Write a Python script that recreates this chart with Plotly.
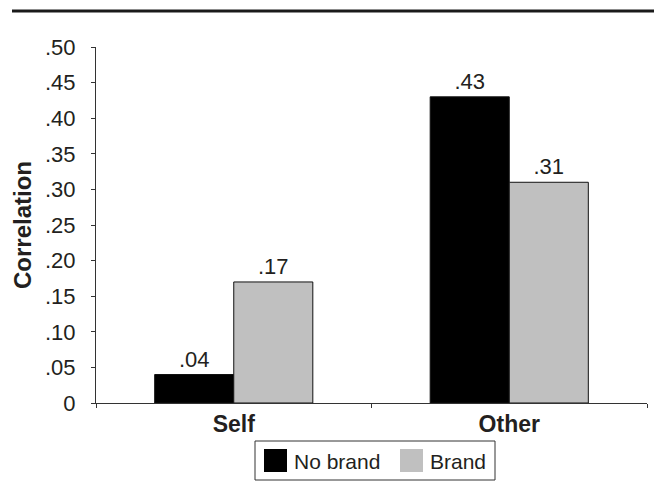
import plotly.graph_objects as go

# Data
categories = ["Self", "Other"]
no_brand = [0.04, 0.43]
brand = [0.17, 0.31]
series_names = ["No brand", "Brand"]
y_tick_values = [0, 0.05, 0.10, 0.15, 0.20, 0.25, 0.30, 0.35, 0.40, 0.45, 0.50]
y_tick_labels = ["0", ".05", ".10", ".15", ".20", ".25", ".30", ".35", ".40", ".45", ".50"]

# Styling
W, H = 654, 501
ML, MR, MT, MB = 96, 7, 47, 98
FONT = "Arial, Liberation Sans, Helvetica, sans-serif"
TXT = "#231f20"
COLORS = ["#000000", "#c0c0c0"]


def fmt(v):
    return f"{v:.2f}".lstrip("0")


fig = go.Figure()
for name, vals, col in zip(series_names, [no_brand, brand], COLORS):
    fig.add_trace(go.Bar(
        x=categories, y=vals, name=name,
        marker=dict(color=col, line=dict(color="#111111", width=1)),
        text=[fmt(v) for v in vals], textposition="outside",
        textfont=dict(family=FONT, size=22, color=TXT),
        cliponaxis=False, showlegend=False,
    ))

# helpers to place decorations in paper coordinates from pixel positions
pw, ph = W - ML - MR, H - MT - MB


def px_x(x):
    return (x - ML) / pw


def px_y(y):
    return (H - MB - y) / ph


shapes = [
    # rule across the top
    dict(type="line", xref="paper", yref="paper",
         x0=px_x(12), x1=px_x(654), y0=px_y(11), y1=px_y(11),
         line=dict(color="#1a1a1a", width=3)),
    # legend frame
    dict(type="rect", xref="paper", yref="paper",
         x0=px_x(255), x1=px_x(495), y0=px_y(480), y1=px_y(441),
         line=dict(color="#333333", width=1), fillcolor="white"),
]
annotations = []
legend_items = [(264, 292), (400, 428)]
for (sx, tx), name, col in zip(legend_items, series_names, COLORS):
    shapes.append(dict(type="rect", xref="paper", yref="paper",
                       x0=px_x(sx), x1=px_x(sx + 23), y0=px_y(472), y1=px_y(449),
                       line=dict(width=0), fillcolor=col))
    annotations.append(dict(xref="paper", yref="paper", x=px_x(tx), y=px_y(461),
                            xanchor="left", yanchor="middle", showarrow=False,
                            text=name, font=dict(family=FONT, size=21, color=TXT)))

fig.update_layout(
    width=W, height=H,
    margin=dict(l=ML, r=MR, t=MT, b=MB, autoexpand=False),
    paper_bgcolor="white", plot_bgcolor="white",
    barmode="group", bargap=0.426, bargroupgap=0,
    font=dict(family=FONT, color=TXT),
    shapes=shapes, annotations=annotations,
    showlegend=False,
)
fig.update_xaxes(
    showline=True, linecolor="#333333", linewidth=1,
    ticks="outside", tickson="boundaries", ticklen=4, tickcolor="#333333",
    tickfont=dict(family=FONT, size=23, color=TXT, weight="bold"),
    ticklabelstandoff=0,
    showgrid=False, zeroline=False,
)
fig.update_yaxes(
    range=[0, 0.5], tickvals=y_tick_values, ticktext=y_tick_labels,
    showline=True, linecolor="#333333", linewidth=1,
    ticks="outside", ticklen=4, tickcolor="#333333",
    tickfont=dict(family=FONT, size=22, color=TXT),
    ticklabelstandoff=11,
    showgrid=False, zeroline=False,
    title=dict(text="Correlation", standoff=6,
               font=dict(family=FONT, size=24, color=TXT, weight="bold")),
)

fig.write_html("out.html")
